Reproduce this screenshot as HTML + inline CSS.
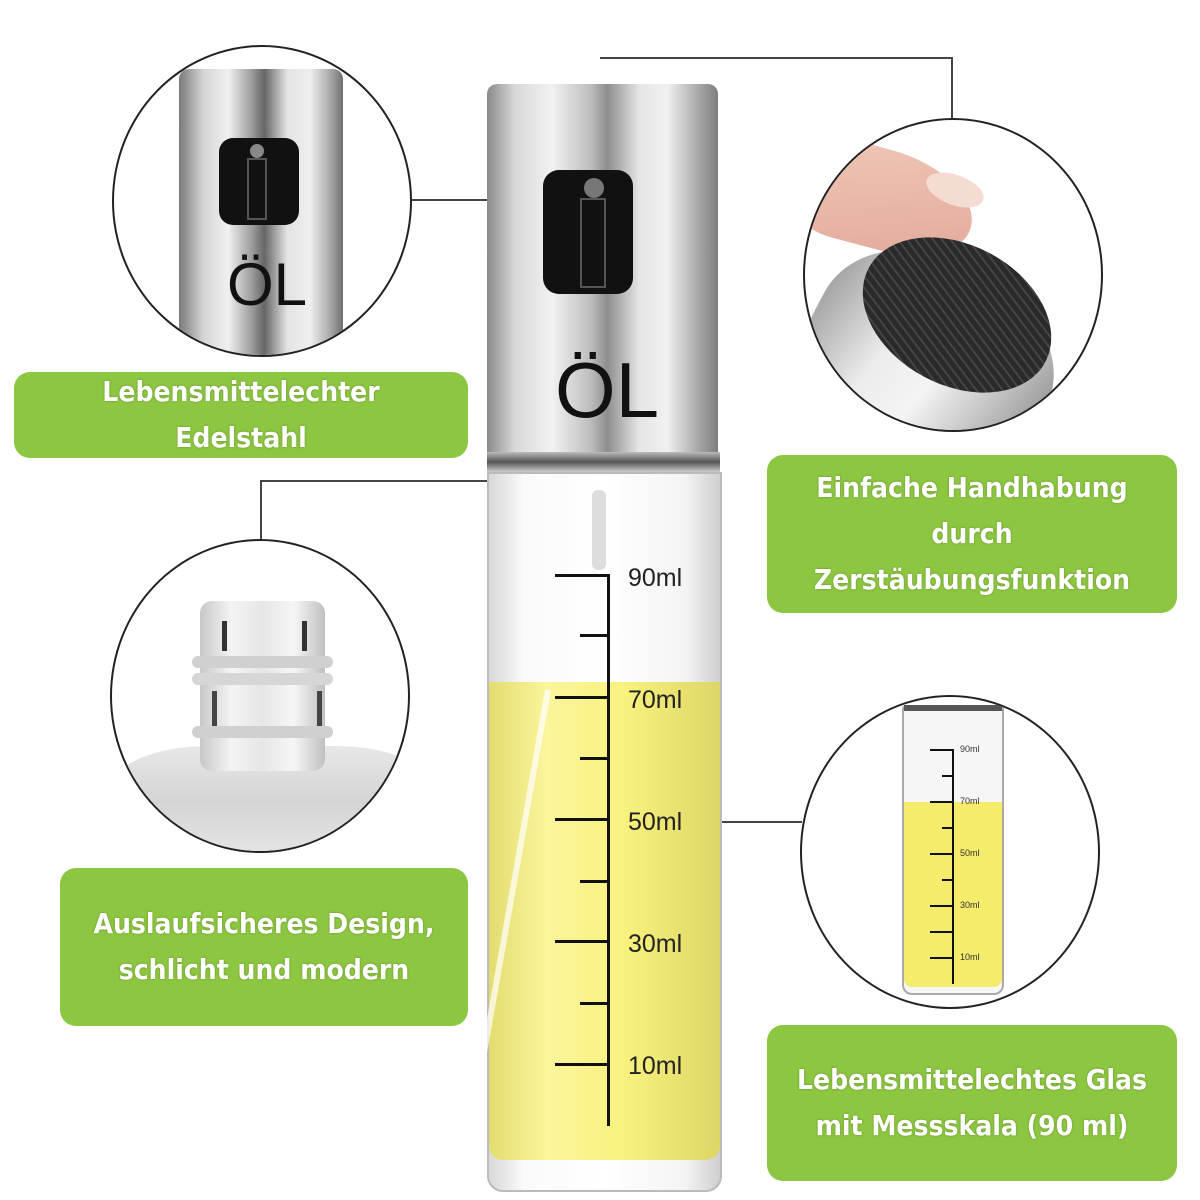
<!DOCTYPE html>
<html><head><meta charset="utf-8"><style>
body{margin:0;width:1200px;height:1200px;background:#fff;position:relative;overflow:hidden;font-family:"Liberation Sans",sans-serif}
.g{position:absolute;background:#8dc641;border-radius:16px;color:#fff;font-weight:bold;font-family:"DejaVu Sans Condensed","DejaVu Sans","Liberation Sans",sans-serif;font-stretch:condensed;font-size:28px;line-height:46px;text-align:center;display:flex;align-items:center;justify-content:center;text-shadow:0 0 2px rgba(0,0,0,.3)}
.c{position:absolute;border-radius:50%;border:2px solid #222;box-sizing:border-box;overflow:hidden;background:#fff}
.l{position:absolute;background:#444}
.t{position:absolute;background:#111;height:3px}
.m{position:absolute;font-size:25px;color:#222}
.mm{position:absolute;font-size:9px;color:#333}
</style></head><body>
<!-- connectors -->
<div class="l" style="left:410px;top:199px;width:78px;height:1.5px"></div>
<div class="l" style="left:600px;top:57px;width:352px;height:1.5px"></div>
<div class="l" style="left:951px;top:57px;width:1.5px;height:62px"></div>
<div class="l" style="left:260px;top:480px;width:228px;height:1.5px"></div>
<div class="l" style="left:260px;top:480px;width:1.5px;height:60px"></div>
<div class="l" style="left:722px;top:821px;width:80px;height:1.5px"></div>

<!-- bottle -->
<div style="position:absolute;left:487px;top:84px;width:231px;height:388px;border-radius:10px 10px 0 0;background:linear-gradient(90deg,#8a8a8a,#d8d8d8 12%,#f2f2f2 28%,#bdbdbd 45%,#8e8e8e 52%,#e6e6e6 66%,#f0f0f0 78%,#b0b0b0 90%,#7d7d7d)"></div>
<div style="position:absolute;left:487px;top:452px;width:233px;height:20px;background:linear-gradient(180deg,#bbb,#555 50%,#ccc)"></div>
<div style="position:absolute;left:543px;top:170px;width:90px;height:124px;border-radius:16px;background:#111"></div>
<div style="position:absolute;left:584px;top:178px;width:20px;height:20px;border-radius:50%;background:#777"></div>
<div style="position:absolute;left:580px;top:198px;width:26px;height:90px;border:2px solid #555;box-sizing:border-box"></div>
<div style="position:absolute;left:555px;top:350px;font-size:78px;line-height:80px;color:#111">ÖL</div>
<div style="position:absolute;left:487px;top:472px;width:235px;height:720px;border:2px solid #bbb;box-sizing:border-box;border-radius:0 0 16px 16px;background:linear-gradient(90deg,#d8d8d8,#fafafa 15%,#fff 50%,#f4f4f4 85%,#cfcfcf)"></div>
<div style="position:absolute;left:489px;top:682px;width:231px;height:478px;border-radius:0 0 14px 14px;background:linear-gradient(90deg,#e3dc70,#fbf59c 25%,#f8f17c 60%,#ddd566)"></div>
<div style="position:absolute;left:592px;top:490px;width:14px;height:80px;background:#ddd;border-radius:6px"></div>
<div style="position:absolute;left:545px;top:690px;width:6px;height:480px;background:rgba(255,255,255,.7);transform:rotate(10deg);transform-origin:top"></div>
<div style="position:absolute;left:607px;top:574px;width:3px;height:552px;background:#111"></div>
<div class="t" style="left:555px;top:574px;width:55px"></div>
<div class="t" style="left:580px;top:634px;width:30px"></div>
<div class="t" style="left:555px;top:696px;width:55px"></div>
<div class="t" style="left:580px;top:757px;width:30px"></div>
<div class="t" style="left:555px;top:818px;width:55px"></div>
<div class="t" style="left:580px;top:880px;width:30px"></div>
<div class="t" style="left:555px;top:940px;width:55px"></div>
<div class="t" style="left:580px;top:1002px;width:30px"></div>
<div class="t" style="left:555px;top:1063px;width:55px"></div>
<div class="m" style="left:628px;top:564px">90ml</div>
<div class="m" style="left:628px;top:686px">70ml</div>
<div class="m" style="left:628px;top:808px">50ml</div>
<div class="m" style="left:628px;top:930px">30ml</div>
<div class="m" style="left:628px;top:1052px">10ml</div>

<!-- circle 1 -->
<div class="c" style="left:112px;top:45px;width:300px;height:312px">
 <div style="position:absolute;left:65px;top:22px;width:164px;height:320px;border-radius:10px 10px 0 0;background:linear-gradient(90deg,#7a7a7a,#d6d6d6 15%,#f0f0f0 30%,#999 45%,#666 52%,#e4e4e4 66%,#eee 80%,#aaa 92%,#707070)"></div>
 <div style="position:absolute;left:105px;top:91px;width:80px;height:87px;border-radius:14px;background:#111"></div>
 <div style="position:absolute;left:136px;top:97px;width:14px;height:14px;border-radius:50%;background:#888"></div>
 <div style="position:absolute;left:133px;top:111px;width:20px;height:62px;border:2px solid #555;box-sizing:border-box"></div>
 <div style="position:absolute;left:113px;top:206px;font-size:60px;line-height:64px;color:#111">ÖL</div>
</div>

<!-- circle 2 -->
<div class="c" style="left:803px;top:118px;width:300px;height:314px">
 <div style="position:absolute;left:-10px;top:30px;width:180px;height:100px;border-radius:40% 60% 50% 30%;background:linear-gradient(160deg,#f0c8b8,#e3a898);transform:rotate(15deg)"></div>
 <div style="position:absolute;left:120px;top:55px;width:60px;height:30px;border-radius:50%;background:#f4dcd2;transform:rotate(20deg)"></div>
 <div style="position:absolute;left:0px;top:140px;width:250px;height:200px;border-radius:45%;background:linear-gradient(100deg,#999,#ececec 35%,#f4f4f4 55%,#bbb 80%,#888);transform:rotate(28deg)"></div>
 <div style="position:absolute;left:52px;top:125px;width:200px;height:140px;border-radius:50%;background:repeating-linear-gradient(25deg,#2a2a2a 0 5px,#444 5px 7px);transform:rotate(28deg)"></div>
</div>

<!-- circle 3 -->
<div class="c" style="left:110px;top:539px;width:300px;height:314px">
 <div style="position:absolute;left:0;top:205px;width:320px;height:140px;border-radius:30% 30% 0 0;background:linear-gradient(180deg,#e8e8e8,#d4d4d4 40%,#efefef)"></div>
 <div style="position:absolute;left:88px;top:60px;width:125px;height:170px;border-radius:12px;background:linear-gradient(90deg,#c8c8c8,#f4f4f4 25%,#e6e6e6 50%,#f6f6f6 75%,#c0c0c0)"></div>
 <div style="position:absolute;left:80px;top:115px;width:141px;height:12px;border-radius:6px;background:#d0d0d0"></div>
 <div style="position:absolute;left:80px;top:132px;width:141px;height:12px;border-radius:6px;background:#d6d6d6"></div>
 <div style="position:absolute;left:80px;top:185px;width:141px;height:12px;border-radius:6px;background:#d0d0d0"></div>
 <div style="position:absolute;left:110px;top:80px;width:5px;height:30px;background:#333"></div>
 <div style="position:absolute;left:190px;top:80px;width:5px;height:30px;background:#333"></div>
 <div style="position:absolute;left:100px;top:150px;width:5px;height:35px;background:#444"></div>
 <div style="position:absolute;left:205px;top:150px;width:5px;height:35px;background:#444"></div>
</div>

<!-- circle 4 -->
<div class="c" style="left:800px;top:695px;width:300px;height:314px">
 <div style="position:absolute;left:100px;top:8px;width:102px;height:290px;border:2px solid #aaa;box-sizing:border-box;background:#f6f6f6;border-radius:4px 4px 10px 10px"></div>
 <div style="position:absolute;left:102px;top:8px;width:98px;height:6px;background:#555"></div>
 <div style="position:absolute;left:102px;top:105px;width:98px;height:185px;border-radius:0 0 8px 8px;background:#f4ec6a"></div>
 <div style="position:absolute;left:150px;top:52px;width:2px;height:235px;background:#111"></div>
 <div style="position:absolute;left:128px;top:52px;width:24px;height:2px;background:#111"></div>
 <div style="position:absolute;left:140px;top:78px;width:12px;height:2px;background:#111"></div>
 <div style="position:absolute;left:128px;top:104px;width:24px;height:2px;background:#111"></div>
 <div style="position:absolute;left:140px;top:130px;width:12px;height:2px;background:#111"></div>
 <div style="position:absolute;left:128px;top:156px;width:24px;height:2px;background:#111"></div>
 <div style="position:absolute;left:140px;top:182px;width:12px;height:2px;background:#111"></div>
 <div style="position:absolute;left:128px;top:208px;width:24px;height:2px;background:#111"></div>
 <div style="position:absolute;left:128px;top:234px;width:24px;height:2px;background:#111"></div>
 <div style="position:absolute;left:128px;top:260px;width:24px;height:2px;background:#111"></div>
 <div class="mm" style="left:158px;top:47px">90ml</div>
 <div class="mm" style="left:158px;top:99px">70ml</div>
 <div class="mm" style="left:158px;top:151px">50ml</div>
 <div class="mm" style="left:158px;top:203px">30ml</div>
 <div class="mm" style="left:158px;top:255px">10ml</div>
</div>

<!-- green boxes -->
<div class="g" style="left:14px;top:372px;width:454px;height:86px">Lebensmittelechter<br>Edelstahl</div>
<div class="g" style="left:767px;top:455px;width:410px;height:158px">Einfache Handhabung<br>durch<br>Zerstäubungsfunktion</div>
<div class="g" style="left:60px;top:868px;width:408px;height:158px">Auslaufsicheres Design,<br>schlicht und modern</div>
<div class="g" style="left:767px;top:1025px;width:410px;height:156px">Lebensmittelechtes Glas<br>mit Messskala (90 ml)</div>
</body></html>
